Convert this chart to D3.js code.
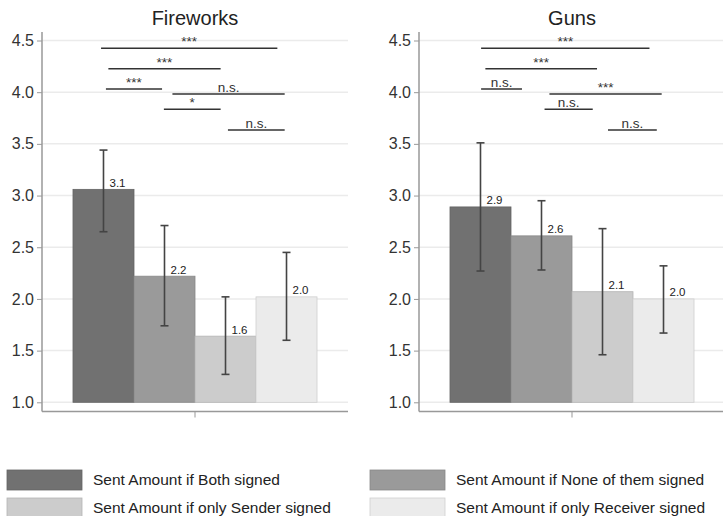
<!DOCTYPE html>
<html>
<head>
<meta charset="utf-8">
<script src="https://cdn.jsdelivr.net/npm/d3@7"></script>
<style>
  html, body { margin: 0; padding: 0; background: #fff; }
  svg { display: block; font-family: "Liberation Sans", Arial, Helvetica, sans-serif; }
</style>
</head>
<body>
<svg id="chart" width="723" height="516"></svg>
<script>
// Series shown in every panel (bar order and legend order)
const series = [
  "Sent Amount if Both signed",
  "Sent Amount if None of them signed",
  "Sent Amount if only Sender signed",
  "Sent Amount if only Receiver signed"
];
const seriesColors = ["#717171", "#9a9a9a", "#cccccc", "#ebebeb"];

// Fireworks: means and confidence limits
const fireworksMeans = [3.06, 2.22, 1.64, 2.02];
const fireworksLow   = [2.65, 1.74, 1.27, 1.60];
const fireworksHigh  = [3.44, 2.71, 2.02, 2.45];

// Guns: means and confidence limits
const gunsMeans = [2.89, 2.61, 2.07, 2.00];
const gunsLow   = [2.27, 2.28, 1.46, 1.67];
const gunsHigh  = [3.51, 2.95, 2.68, 2.32];

// Pairwise test brackets: [from bar, to bar, height, label]
const fireworksBrackets = [
  [-0.04, 2.85, 4.424, "***"],
  [0.08, 1.92, 4.226, "***"],
  [0.04, 0.96, 4.030, "***"],
  [1.13, 2.97, 3.982, "n.s."],
  [0.99, 1.92, 3.834, "*"],
  [2.04, 2.97, 3.633, "n.s."]
];
const gunsBrackets = [
  [0.01, 2.77, 4.424, "***"],
  [0.08, 1.91, 4.226, "***"],
  [0.01, 0.68, 4.030, "n.s."],
  [1.13, 2.97, 3.982, "***"],
  [1.05, 1.84, 3.834, "n.s."],
  [2.09, 2.89, 3.633, "n.s."]
];

const yTicks = [1.0, 1.5, 2.0, 2.5, 3.0, 3.5, 4.0, 4.5];

const panels = [
  { title: "Fireworks", means: fireworksMeans, low: fireworksLow, high: fireworksHigh, brackets: fireworksBrackets, left: 42 },
  { title: "Guns", means: gunsMeans, low: gunsLow, high: gunsHigh, brackets: gunsBrackets, left: 419 }
];

const svg = d3.select("#chart");
const plotW = 306;
const axisY = 411.5;
const y = d3.scaleLinear().domain([1, 4.5]).range([402.3, 40.5]);
const fmt = d3.format(".1f");

panels.forEach(p => {
  const g = svg.append("g").attr("transform", `translate(${p.left},0)`);

  // one category per panel, split into the four series
  const xGroup = d3.scaleBand().domain(["all"]).range([0, plotW]).paddingOuter(0.127).paddingInner(0);
  const x = d3.scaleBand().domain(d3.range(series.length)).range([xGroup("all"), xGroup("all") + xGroup.bandwidth()]);
  const xPos = d3.scaleLinear().domain([0, series.length - 1])
    .range([x(0) + x.bandwidth() / 2, x(series.length - 1) + x.bandwidth() / 2]);

  // gridlines
  g.append("g").selectAll("line").data(yTicks).join("line")
    .attr("x1", 0).attr("x2", plotW)
    .attr("y1", d => y(d)).attr("y2", d => y(d))
    .attr("stroke", "#ebebeb").attr("stroke-width", 1.5);

  // title
  g.append("text")
    .attr("x", plotW / 2).attr("y", 25)
    .attr("text-anchor", "middle")
    .attr("font-size", 20).attr("fill", "#222")
    .text(p.title);

  // y axis
  const yAxis = d3.axisLeft(y).tickValues(yTicks).tickFormat(d3.format(".1f")).tickSize(5).tickPadding(3);
  const ya = g.append("g").call(yAxis);
  ya.select(".domain").remove();
  ya.selectAll(".tick line").attr("stroke", "#999").attr("stroke-width", 1);
  ya.selectAll(".tick text").attr("font-size", 16).attr("fill", "#333")
    .attr("font-family", "'Liberation Sans', Arial, sans-serif");
  g.append("line").attr("x1", 0).attr("x2", 0).attr("y1", 32).attr("y2", axisY)
    .attr("stroke", "#999").attr("stroke-width", 1.5);

  // x axis
  g.append("line").attr("x1", 0).attr("x2", plotW).attr("y1", axisY).attr("y2", axisY)
    .attr("stroke", "#999").attr("stroke-width", 1.5);
  g.append("line")
    .attr("x1", xGroup("all") + xGroup.bandwidth() / 2).attr("x2", xGroup("all") + xGroup.bandwidth() / 2)
    .attr("y1", axisY).attr("y2", axisY + 6)
    .attr("stroke", "#999").attr("stroke-width", 1);

  // bars
  g.append("g").selectAll("rect").data(p.means).join("rect")
    .attr("x", (d, i) => x(i))
    .attr("width", x.bandwidth())
    .attr("y", d => y(d))
    .attr("height", d => y(1) - y(d))
    .attr("fill", (d, i) => seriesColors[i])
    .attr("stroke", (d, i) => d3.color(seriesColors[i]).darker(0.35))
    .attr("stroke-width", 0.8);

  // error bars
  const eb = g.append("g").attr("stroke", "#444").attr("stroke-width", 1.6).attr("fill", "none");
  p.means.forEach((m, i) => {
    const cx = xPos(i);
    eb.append("line").attr("x1", cx).attr("x2", cx).attr("y1", y(p.low[i])).attr("y2", y(p.high[i]));
    eb.append("line").attr("x1", cx - 4).attr("x2", cx + 4).attr("y1", y(p.low[i])).attr("y2", y(p.low[i]));
    eb.append("line").attr("x1", cx - 4).attr("x2", cx + 4).attr("y1", y(p.high[i])).attr("y2", y(p.high[i]));
  });

  // value labels
  g.append("g").selectAll("text").data(p.means).join("text")
    .attr("x", (d, i) => xPos(i) + 6)
    .attr("y", d => y(d) - 2.5)
    .attr("font-size", 11.5).attr("fill", "#222")
    .text(d => fmt(d));

  // significance brackets
  const br = g.append("g");
  br.selectAll("line").data(p.brackets).join("line")
    .attr("x1", d => xPos(d[0])).attr("x2", d => xPos(d[1]))
    .attr("y1", d => y(d[2])).attr("y2", d => y(d[2]))
    .attr("stroke", "#333").attr("stroke-width", 1.5);
  br.selectAll("text").data(p.brackets).join("text")
    .attr("x", d => (xPos(d[0]) + xPos(d[1])) / 2)
    .attr("y", d => y(d[2]) - 2)
    .attr("text-anchor", "middle")
    .attr("font-size", 13.5).attr("fill", "#333")
    .text(d => d[3]);
});

// legend, two columns by two rows
const legend = svg.append("g");
const legendCols = [7, 370];
const legendRows = [470, 498];
series.forEach((s, i) => {
  const lx = legendCols[i % 2];
  const ly = legendRows[Math.floor(i / 2)];
  legend.append("rect")
    .attr("x", lx).attr("y", ly).attr("width", 75).attr("height", 20)
    .attr("fill", seriesColors[i])
    .attr("stroke", d3.color(seriesColors[i]).darker(0.35)).attr("stroke-width", 0.8);
  legend.append("text")
    .attr("x", lx + 86).attr("y", ly + 10)
    .attr("dy", "0.35em")
    .attr("font-size", 15.5).attr("fill", "#222")
    .text(s);
});
</script>
</body>
</html>
